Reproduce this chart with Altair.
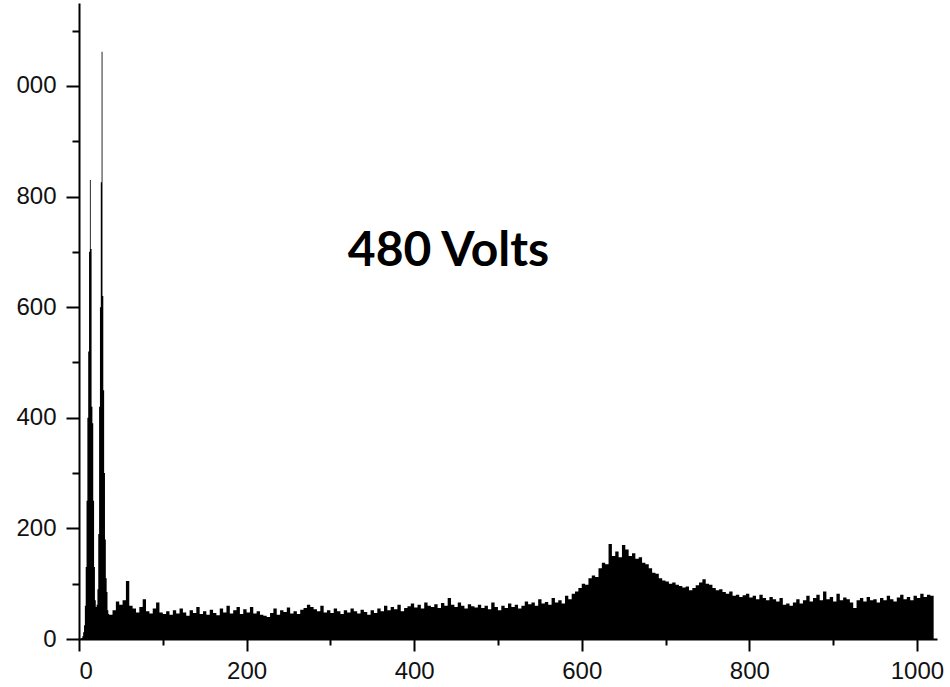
import altair as alt
import pandas as pd

# Spectrum counts: channels 0..35 read one by one (the two sharp peaks)
peak_channels = list(range(0, 36))
peak_counts = [0, 0, 1, 2, 5, 12, 25, 60, 130, 250, 400, 520, 700, 830, 705, 420,
               390, 250, 130, 70, 58, 62, 90, 190, 420, 600, 826, 1062, 620, 450,
               300, 180, 110, 85, 52, 45]

# Channels 36..1016, read in groups of 4 channels
coarse_channels = list(range(36, 1020, 4))
coarse_counts = [
    44, 52, 68, 62, 70, 105, 60, 55, 48, 58,
    72, 50, 46, 55, 66, 48, 45, 50, 44, 52,
    46, 55, 48, 42, 52, 47, 58, 45, 50, 44,
    53, 47, 43, 55, 48, 60, 46, 52, 58, 45,
    54, 48, 58, 46, 50, 44, 42, 40, 47, 55,
    44, 52, 49, 57, 46, 50, 45, 53, 56, 62,
    58, 54, 50, 60, 48, 52, 47, 55, 50, 45,
    52, 48, 55, 50, 46, 53, 49, 44, 52, 47,
    55, 50, 60, 52, 58, 54, 62, 50, 56, 59,
    64, 57, 62, 55, 66, 60, 58, 63, 56, 65,
    60, 74, 62, 58, 66, 60, 55, 63, 59, 57,
    62, 56, 60, 54, 66, 58, 52, 60, 56, 64,
    58, 62, 55, 60, 68, 63, 66, 60, 72, 64,
    67, 62, 74, 66, 70, 64, 78, 72, 82, 86,
    92, 100, 98, 110, 115, 112, 128, 138, 135, 172,
    150, 158, 148, 170, 162, 150, 155, 145, 148, 138,
    135, 128, 120, 118, 110, 106, 104, 100, 102, 98,
    96, 93, 95, 88, 92, 97, 102, 108, 100, 98,
    92, 88, 90, 85, 82, 86, 78, 80, 76, 79,
    82, 75, 78, 72, 80, 74, 70, 76, 72, 68,
    74, 62, 64, 60, 66, 72, 64, 70, 78, 68,
    74, 80, 70, 86, 72, 76, 68, 82, 70, 75,
    72, 66, 56, 70, 74, 68, 76, 70, 72, 66,
    74, 70, 78, 72, 68, 75, 80, 72, 76, 70,
    78, 74, 82, 76, 80, 78,
]

end_channel = [1020]
end_count = [0]

x_ticks = list(range(0, 1001, 100))
y_ticks = list(range(0, 1101, 100))

annotation_text = ["480 Volts"]
annotation_x = [441]
annotation_y = [700]

df = pd.DataFrame({
    "channel": peak_channels + coarse_channels + end_channel,
    "count": peak_counts + coarse_counts + end_count,
})
ann = pd.DataFrame({"x": annotation_x, "y": annotation_y, "t": annotation_text})

x_scale = alt.Scale(domain=[0, 1024], nice=False, zero=False)
y_scale = alt.Scale(domain=[0, 1150], nice=False)

x_axis = alt.Axis(
    values=x_ticks, title=None, grid=False, format="d",
    labelExpr="datum.value % 200 === 0 ? datum.label : ''",
    tickSize={"condition": {"test": "datum.value % 200 === 0", "value": 12}, "value": 6},
    labelPadding=8,
    domainColor="black", domainWidth=2, tickColor="black", tickWidth=2,
    labelFont="Liberation Sans", labelFontSize=24, labelColor="#111",
)
y_axis = alt.Axis(
    values=y_ticks, title=None, grid=False, format="d",
    labelExpr="datum.value % 200 === 0 ? (datum.value === 1000 ? '000' : datum.label) : ''",
    tickSize={"condition": {"test": "datum.value % 200 === 0", "value": 13}, "value": 7},
    labelPadding=10,
    domainColor="black", domainWidth=2, tickColor="black", tickWidth=2,
    labelFont="Liberation Sans", labelFontSize=24, labelColor="#111",
)

area = alt.Chart(df).mark_area(interpolate="step-after", color="black", opacity=1).encode(
    x=alt.X("channel:Q", scale=x_scale, axis=x_axis),
    y=alt.Y("count:Q", scale=y_scale, axis=y_axis),
)

label = alt.Chart(ann).mark_text(
    font="Lato", fontWeight="bold", fontSize=48, color="black", baseline="middle", align="center"
).encode(
    x=alt.X("x:Q", scale=x_scale),
    y=alt.Y("y:Q", scale=y_scale),
    text="t:N",
)

chart = alt.layer(area, label).properties(
    width=858, height=636,
    background="white",
    autosize=alt.AutoSizeParams(type="none"),
    padding={"left": 79, "top": 3, "right": 13, "bottom": 48},
).configure_view(stroke=None)

chart.save("out.html", embed_options={"renderer": "svg", "actions": False})
